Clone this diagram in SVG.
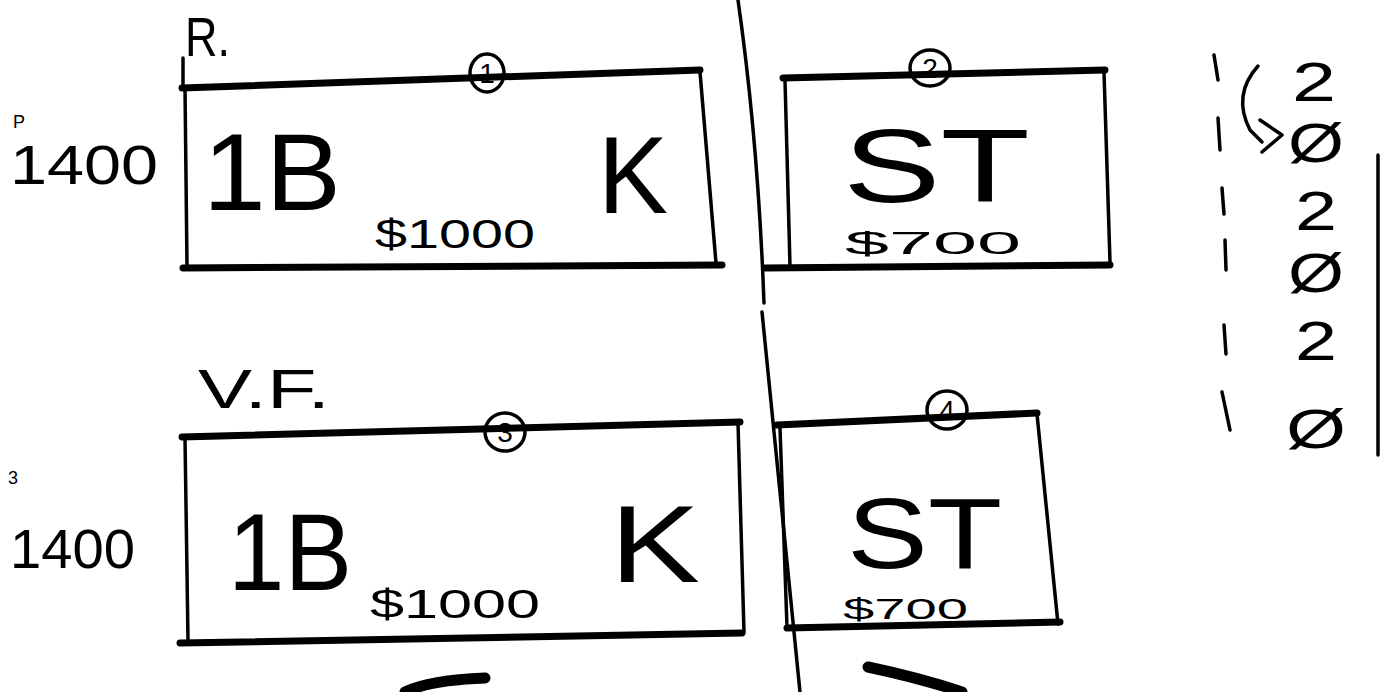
<svg xmlns="http://www.w3.org/2000/svg" width="1389" height="692" viewBox="0 0 1389 692">
<style>
.thick{fill:none;stroke:#000;stroke-width:7;stroke-linecap:round;stroke-linejoin:round}
.thin{fill:none;stroke:#000;stroke-width:3.5;stroke-linecap:round;stroke-linejoin:round}
.brush{fill:none;stroke:#000;stroke-width:11;stroke-linecap:round}
.t{font-family:"Liberation Sans",Arial,sans-serif;fill:#000}
.big{font-size:110px}
.st{font-size:104px}
.st2{font-size:100px}
.mid{font-size:56px}
.sm{font-size:40px}
.xs{font-size:31px}
.xs2{font-size:30px}
.num{font-size:28px;text-anchor:middle}
.tiny{font-size:18px}
</style>
<rect width="1389" height="692" fill="#fff"/>

<g id="connectors">
  <path class="thin" d="M738,0 Q758,140 764,303"/>
  <path class="thin" d="M762,312 Q780,500 800,692"/>
  <path class="brush" d="M405,692 Q430,680 485,678"/>
  <path class="brush" d="M868,667 Q920,678 962,692"/>
</g>

<g id="box1">
  <path class="thin" d="M183,58 L183,88"/>
  <text class="t mid" x="185" y="56" textLength="45" lengthAdjust="spacingAndGlyphs">R.</text>
  <text class="t tiny" x="13" y="128">P</text>
  <text class="t mid" x="10" y="184" textLength="148" lengthAdjust="spacingAndGlyphs">1400</text>
  <path class="thick" d="M182,88 L700,70"/>
  <path class="thick" d="M183,268 L722,265"/>
  <path class="thin" d="M185,88 L187,266 M700,72 L716,263"/>
  <ellipse class="thin" cx="487" cy="73" rx="17" ry="19"/>
  <text class="t num" x="487" y="83">1</text>
  <text class="t big" x="203" y="210" textLength="138" lengthAdjust="spacingAndGlyphs">1B</text>
  <text class="t sm" x="375" y="248" textLength="160" lengthAdjust="spacingAndGlyphs">$1000</text>
  <text class="t big" x="598" y="213" textLength="70" lengthAdjust="spacingAndGlyphs">K</text>
</g>

<g id="box2">
  <path class="thick" d="M783,78 L1105,70"/>
  <path class="thick" d="M765,268 L1110,265"/>
  <path class="thin" d="M785,80 L790,266 M1104,72 L1110,262"/>
  <ellipse class="thin" cx="930" cy="68" rx="20" ry="18"/>
  <text class="t num" x="930" y="78">2</text>
  <text class="t st" x="843" y="202" textLength="187" lengthAdjust="spacingAndGlyphs">ST</text>
  <text class="t xs" x="845" y="254" textLength="176" lengthAdjust="spacingAndGlyphs">$700</text>
</g>

<g id="box3">
  <text class="t mid" x="198" y="408" textLength="132" lengthAdjust="spacingAndGlyphs">V.F.</text>
  <text class="t tiny" x="8" y="484">3</text>
  <text class="t mid" x="10" y="568" textLength="125" lengthAdjust="spacingAndGlyphs">1400</text>
  <path class="thick" d="M182,437 L740,422"/>
  <path class="thick" d="M180,643 L742,633"/>
  <path class="thin" d="M185,438 L188,640 M738,423 L744,632"/>
  <ellipse class="thin" cx="505" cy="432" rx="20" ry="19"/>
  <text class="t num" x="505" y="442">3</text>
  <text class="t big" x="228" y="590" textLength="124" lengthAdjust="spacingAndGlyphs">1B</text>
  <text class="t sm" x="370" y="618" textLength="170" lengthAdjust="spacingAndGlyphs">$1000</text>
  <text class="t big" x="610" y="582" textLength="90" lengthAdjust="spacingAndGlyphs">K</text>
</g>

<g id="box4">
  <path class="thick" d="M777,425 L1037,413"/>
  <path class="thick" d="M787,628 L1060,622"/>
  <path class="thin" d="M780,428 L787,627 M1037,414 L1058,624"/>
  <ellipse class="thin" cx="947" cy="410" rx="20" ry="19"/>
  <text class="t num" x="947" y="420">4</text>
  <text class="t st2" x="847" y="568" textLength="155" lengthAdjust="spacingAndGlyphs">ST</text>
  <text class="t xs2" x="843" y="619" textLength="125" lengthAdjust="spacingAndGlyphs">$700</text>
</g>

<g id="tally">
  <path class="thin" d="M1214,55 L1218,80 M1218,118 L1220,150 M1222,188 L1224,214 M1225,240 L1226,270 M1224,325 L1226,354 M1222,392 L1230,430"/>
  <path class="thin" d="M1258,66 Q1232,95 1250,130 L1262,142"/>
  <path class="thin" d="M1260,120 L1282,135 L1262,152"/>
  <text class="t mid" x="1292" y="101" textLength="44" lengthAdjust="spacingAndGlyphs">2</text>
  <text class="t mid" x="1288" y="162" textLength="56" lengthAdjust="spacingAndGlyphs">Ø</text>
  <text class="t mid" x="1295" y="230" textLength="42" lengthAdjust="spacingAndGlyphs">2</text>
  <text class="t mid" x="1288" y="292" textLength="56" lengthAdjust="spacingAndGlyphs">Ø</text>
  <text class="t mid" x="1295" y="360" textLength="42" lengthAdjust="spacingAndGlyphs">2</text>
  <text class="t mid" x="1286" y="448" textLength="60" lengthAdjust="spacingAndGlyphs">Ø</text>
  <path class="thin" d="M1378,155 L1378,455"/>
</g>
</svg>
